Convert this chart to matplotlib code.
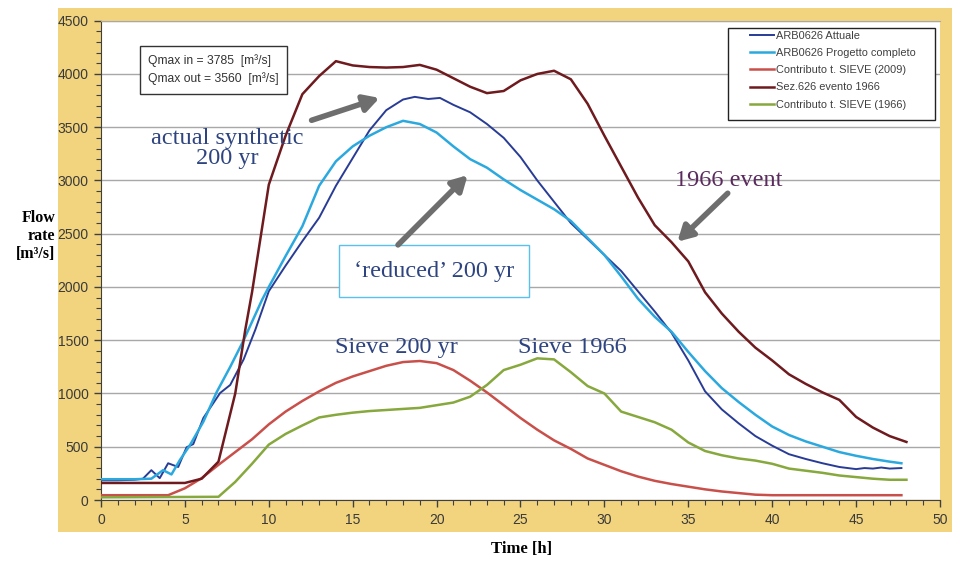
import matplotlib.pyplot as plt
from matplotlib.patches import Rectangle
import numpy as np

# ARB0626 Attuale (actual synthetic 200 yr)
h_att = [0, 1, 2, 2.5, 3, 3.5, 4, 4.6, 5.1, 5.5, 6.1, 7.1, 7.7, 8.5, 9.2, 10, 11, 12, 13, 14, 15, 16, 17,
         18, 18.7, 19.5, 20.2, 21, 22, 23, 24, 25, 26, 27, 28, 29, 30, 31, 32, 33, 34, 35, 36, 37, 38,
         39, 40, 41, 42, 43, 44, 45, 45.5, 46, 46.5, 47, 47.7]
q_att = [185, 185, 190, 200, 280, 205, 345, 310, 495, 525, 770, 1005, 1080, 1320, 1600, 1960, 2200,
         2430, 2650, 2950, 3210, 3470, 3660, 3760, 3785, 3765, 3775, 3710, 3640, 3530, 3400, 3220,
         3000, 2800, 2600, 2450, 2300, 2150, 1960, 1770, 1570, 1310, 1020, 850, 720, 600, 510, 430,
         385, 345, 310, 290, 300, 295, 305, 295, 300]

# ARB0626 Progetto completo ('reduced' 200 yr)
h_prog = [0, 2, 3, 3.7, 4.2, 4.7, 5.3, 6.1, 6.9, 7.7, 8.5, 9.6, 10, 11, 12, 13, 14, 15, 16, 17, 18, 19,
          20, 21, 22, 23, 24, 25, 26, 27, 28, 29, 30, 31, 32, 33, 34, 35, 36, 37, 38, 39, 40, 41, 42,
          43, 44, 45, 46, 47, 47.7]
q_prog = [195, 195, 200, 280, 240, 375, 515, 735, 1015, 1250, 1500, 1880, 2000, 2290, 2570, 2950, 3180,
          3320, 3420, 3500, 3560, 3530, 3450, 3320, 3200, 3120, 3010, 2910, 2820, 2730, 2620, 2460,
          2300, 2100, 1890, 1720, 1580, 1390, 1210, 1050, 920, 800, 690, 610, 550, 500, 450, 415, 385,
          360, 345]

# Contributo t. SIEVE (2009)
h_sv09 = [0, 4, 5, 6, 7, 8, 9, 10, 11, 12, 13, 14, 15, 16, 17, 18, 19, 20, 21, 22, 23, 24, 25, 26, 27,
          28, 29, 30, 31, 32, 33, 34, 35, 36, 37, 38, 39, 40, 47.7]
q_sv09 = [45, 45, 110, 205, 330, 450, 570, 710, 830, 930, 1020, 1100, 1160, 1210, 1260, 1295, 1305,
          1285, 1220, 1120, 1010, 890, 770, 660, 560, 480, 390, 330, 270, 220, 180, 150, 125, 100, 80,
          65, 50, 45, 45]

# Sez.626 evento 1966
h_ev66 = [0, 5, 6, 7, 8, 8.6, 9, 10, 11, 12, 13, 14, 15, 16, 17, 18, 19, 20, 21, 22, 23, 24, 25, 26,
          27, 28, 29, 30, 31, 32, 33, 34, 35, 36, 37, 38, 39, 40, 41, 42, 43, 44, 45, 46, 47, 48]
q_ev66 = [160, 160, 200, 360, 1000, 1600, 1950, 2960, 3420, 3810, 3980, 4120, 4080, 4065, 4060, 4065,
          4085, 4040, 3960, 3880, 3820, 3840, 3940, 4000, 4030, 3950, 3720, 3420, 3130, 2840, 2580,
          2420, 2240, 1950, 1750, 1580, 1430, 1310, 1180, 1090, 1010, 940, 780, 680, 600, 545]

# Contributo t. SIEVE (1966)
h_sv66 = [0, 7, 8, 9, 10, 11, 12, 13, 14, 15, 16, 17, 18, 19, 20, 21, 22, 23, 24, 25, 26, 27, 28, 29,
          30, 31, 32, 33, 34, 35, 36, 37, 38, 39, 40, 41, 42, 43, 44, 45, 46, 47, 48]
q_sv66 = [25, 30, 170, 340, 520, 620, 700, 775, 800, 820, 835, 845, 855, 865, 890, 915, 970, 1080,
          1220, 1270, 1330, 1320, 1200, 1070, 1000, 830, 780, 730, 660, 540, 460, 420, 390, 370, 340,
          295, 275, 255, 230, 215, 200, 190, 190]

labels = ['ARB0626 Attuale', 'ARB0626 Progetto completo', 'Contributo t. SIEVE (2009)',
          'Sez.626 evento 1966', 'Contributo t. SIEVE (1966)']
colors = ['#283C96', '#2BA9DF', '#C9504A', '#6E1A1E', '#86A83C']

fig = plt.figure(figsize=(9.54, 5.64), dpi=100)
fig.patches.append(Rectangle((58 / 954, 1 - 532 / 564), 894 / 954, 524 / 564,
                             transform=fig.transFigure, facecolor='#F2D47E',
                             edgecolor='none', zorder=-5))
ax = fig.add_axes([101 / 954, 1 - 500 / 564, 839 / 954, 479.3 / 564])
ax.set_zorder(2)
ax.set_facecolor('white')

series = [(h_att, q_att, 1.4), (h_prog, q_prog, 1.8), (h_sv09, q_sv09, 1.8),
          (h_ev66, q_ev66, 1.8), (h_sv66, q_sv66, 1.8)]
for (h, q, lw), lab, c in zip(series, labels, colors):
    ax.plot(h, q, color=c, lw=lw, label=lab, zorder=3)

ax.set_xlim(0, 50)
ax.set_ylim(0, 4500)
ax.set_xticks(np.arange(0, 51, 5))
ax.set_yticks(np.arange(0, 4501, 500))
ax.set_xticks(np.arange(0, 51, 1), minor=True)
ax.set_yticks(np.arange(0, 4501, 100), minor=True)
ax.grid(axis='y', which='major', color='#A8A8A8', lw=1)
ax.set_axisbelow(True)
ax.tick_params(which='major', direction='out', length=5, width=1, color='#404040',
               labelsize=10, labelcolor='#3A3A3A', pad=4)
ax.tick_params(which='minor', direction='out', length=3.5, width=0.8, color='#404040')
for lab in ax.get_xticklabels() + ax.get_yticklabels():
    lab.set_fontfamily('Liberation Sans')
ax.spines['right'].set_visible(False)
ax.spines['top'].set_color('#A8A8A8')
ax.spines['left'].set_color('#404040')
ax.spines['bottom'].set_color('#404040')

# legend box
ax.add_patch(Rectangle((0.747, 0.793), 0.247, 0.192, transform=ax.transAxes,
                       facecolor='white', edgecolor='#222222', lw=1, zorder=4))
leg = ax.legend(loc='upper left', bbox_to_anchor=(0.7735, 0.979), frameon=False,
                borderpad=0, borderaxespad=0, handlelength=2.2, handletextpad=0.2,
                labelspacing=0.66, prop={'family': 'Liberation Sans', 'size': 7.9})
leg.set_zorder(5)
for t in leg.get_texts():
    t.set_color('#404040')

# Qmax box
ax.text(0.056, 0.898, 'Qmax in = 3785  [m³/s]\nQmax out = 3560  [m³/s]', transform=ax.transAxes,
        ha='left', va='center', fontsize=8.7, family='Liberation Sans', color='#333333',
        linespacing=1.55, zorder=5,
        bbox=dict(boxstyle='square,pad=0.7', facecolor='white', edgecolor='#333333', lw=1))

# annotations
navy = '#2E4480'
serif = 'Liberation Serif'
fs = 17.5
ax.text(7.5, 3300, 'actual synthetic\n200 yr', ha='center', va='center', fontsize=fs,
        family=serif, color=navy, linespacing=0.95, zorder=5)
ax.text(19.85, 2150, '\u2018reduced\u2019 200 yr', ha='center', va='center', fontsize=fs,
        family=serif, color=navy, zorder=5,
        bbox=dict(boxstyle='square,pad=0.62', facecolor='white', edgecolor='#5BC0EB', lw=1))
ax.text(17.6, 1430, 'Sieve 200 yr', ha='center', va='center', fontsize=fs, family=serif,
        color=navy, zorder=5)
ax.text(28.1, 1430, 'Sieve 1966', ha='center', va='center', fontsize=fs, family=serif,
        color=navy, zorder=5)
ax.text(37.4, 3000, '1966 event', ha='center', va='center', fontsize=fs, family=serif,
        color='#5B2A5E', zorder=5)

arrow = dict(arrowstyle='-|>,head_length=0.9,head_width=0.5', color='#6E6E6E', lw=4,
             shrinkA=0, shrinkB=0)
ax.annotate('', xy=(16.6, 3775), xytext=(12.55, 3565), arrowprops=arrow, zorder=6)
ax.annotate('', xy=(21.85, 3050), xytext=(17.7, 2395), arrowprops=arrow, zorder=6)
ax.annotate('', xy=(34.35, 2425), xytext=(37.35, 2880), arrowprops=arrow, zorder=6)

fig.text(55 / 954, 1 - 236 / 564, 'Flow\nrate\n[m³/s]', ha='right', va='center',
         multialignment='right', fontsize=11.5, fontweight='bold', family=serif,
         linespacing=1.15)
fig.text(522 / 954, 1 - 549 / 564, 'Time [h]', ha='center', va='center', fontsize=12,
         fontweight='bold', family=serif)

fig.savefig('out.png', dpi=100)
